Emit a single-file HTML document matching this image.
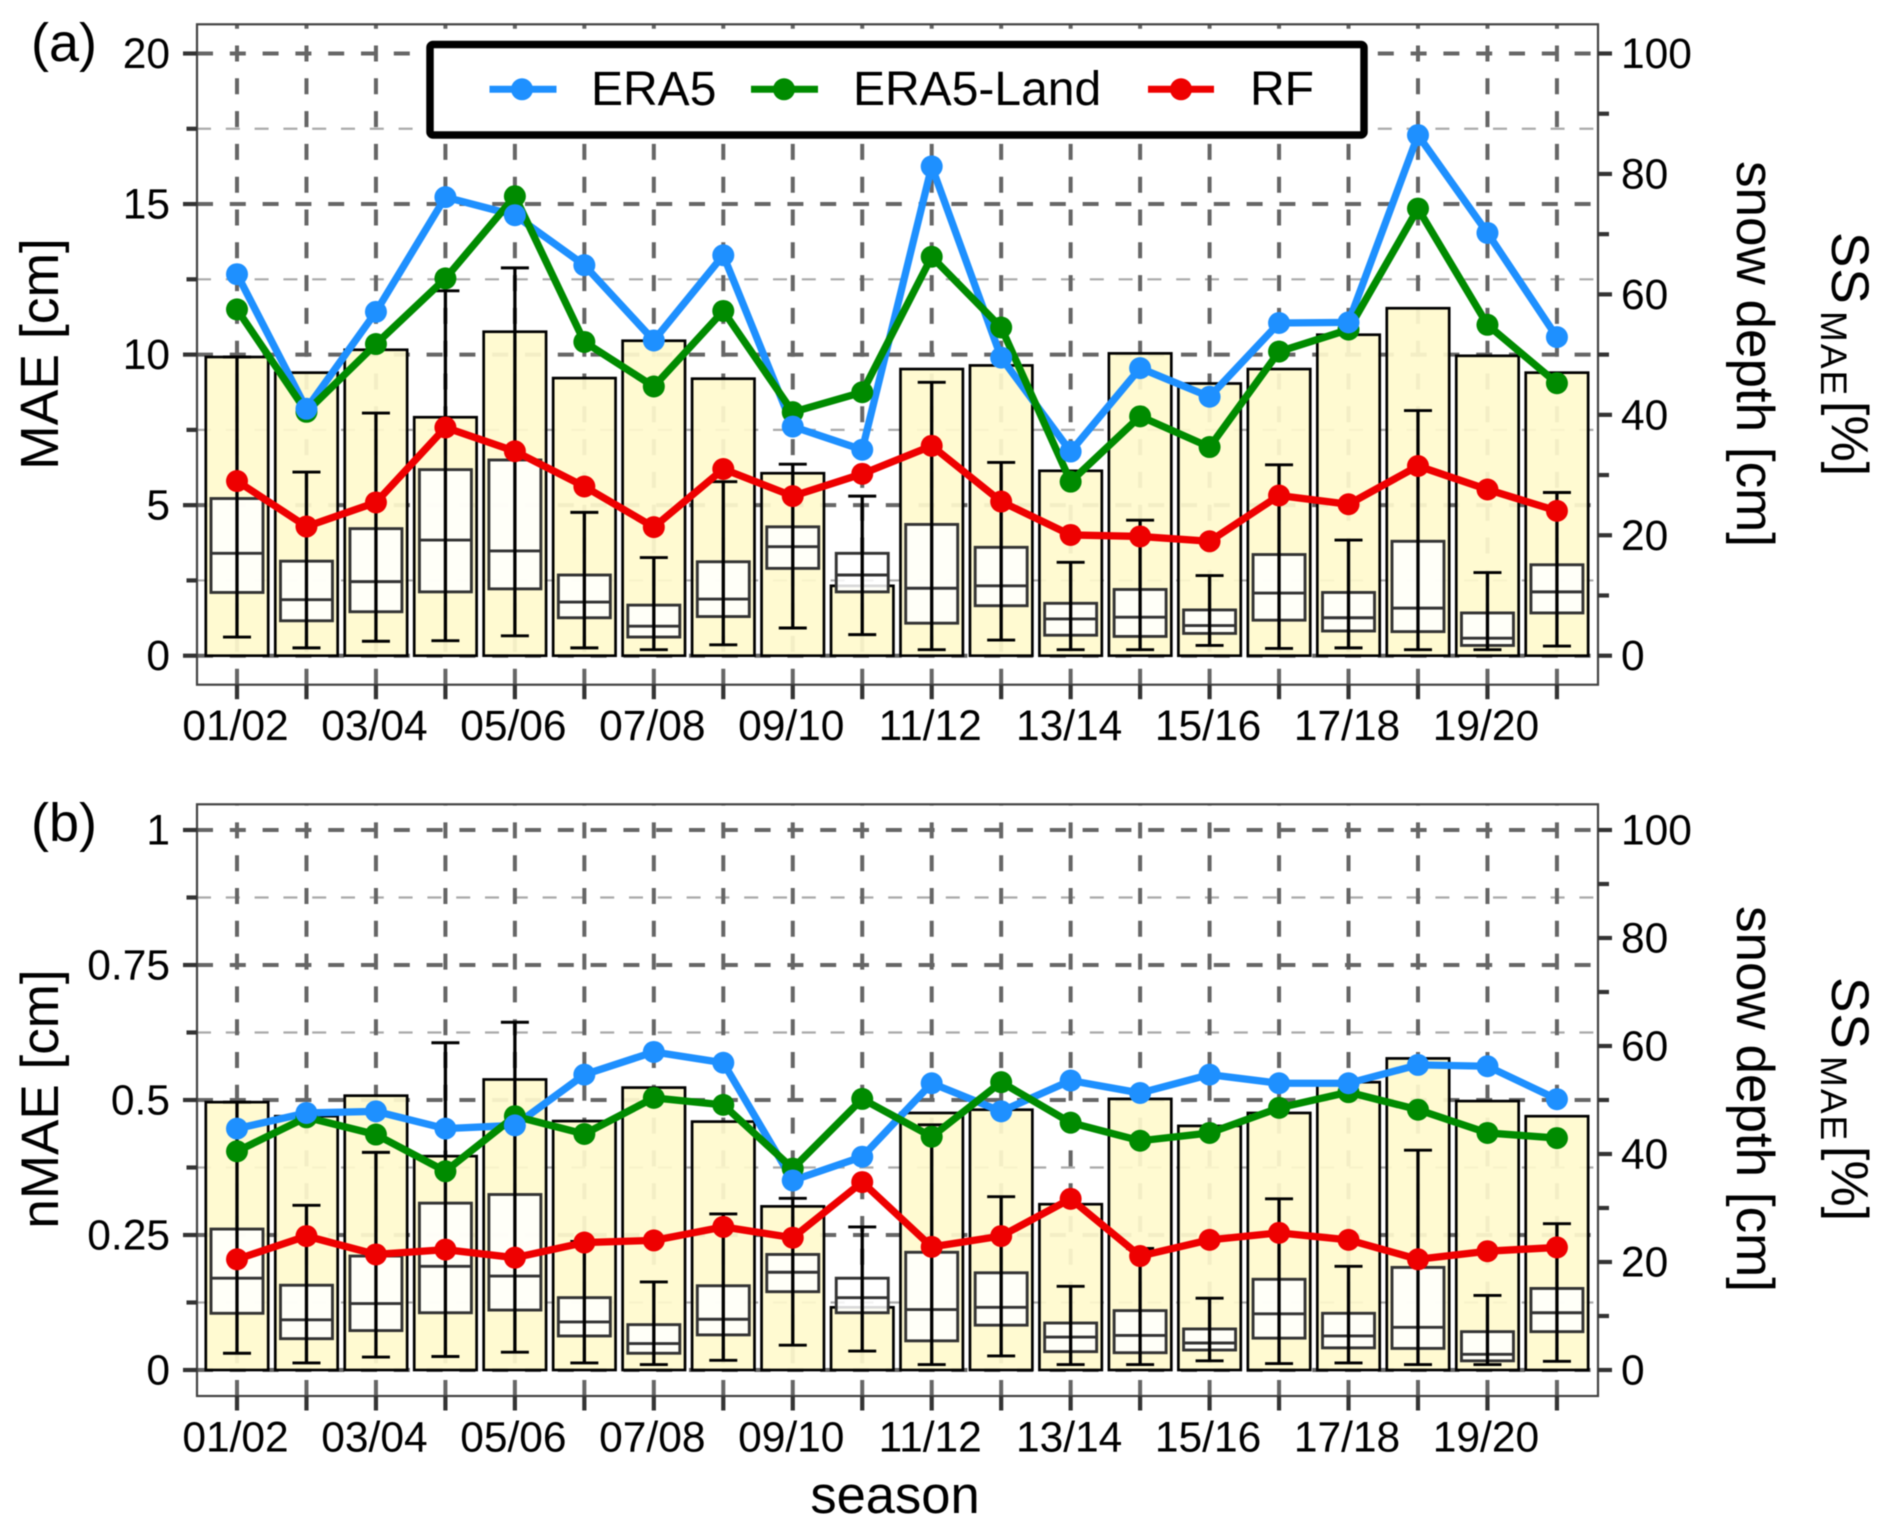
<!DOCTYPE html>
<html lang="en">
<head>
<meta charset="utf-8">
<title>Seasonal MAE, nMAE, skill score and snow depth</title>
<style>
html,body{margin:0;padding:0;background:#fff;}
svg{display:block;font-family:"Liberation Sans",Arial,sans-serif;filter:blur(0.5px);}
text{fill:#000;}
</style>
</head>
<body>
<svg id="chart" xmlns="http://www.w3.org/2000/svg" width="1892" height="1533" viewBox="0 0 1892 1533">
  <rect x="0" y="0" width="1892" height="1533" fill="#fff"/>
  <g id="panel-a"></g>
  <g id="panel-b"></g>

  <text x="31" y="61" font-size="54">(a)</text>
  <text x="31" y="841" font-size="54">(b)</text>
  <text transform="translate(58,354) rotate(-90)" text-anchor="middle" font-size="53.5">MAE [cm]</text>
  <text transform="translate(58,1099) rotate(-90)" text-anchor="middle" font-size="53">nMAE [cm]</text>

  <text transform="translate(1737,354) rotate(90)" text-anchor="middle" font-size="53">snow depth [cm]</text>
  <text transform="translate(1737,1099) rotate(90)" text-anchor="middle" font-size="53">snow depth [cm]</text>

  <g>
    <text transform="translate(1832,232) rotate(90)" font-size="53" letter-spacing="1">SS</text>
    <text transform="translate(1821,311) rotate(90)" font-size="37" letter-spacing="2">MAE</text>
    <text transform="translate(1832,401) rotate(90)" font-size="52">[%]</text>
  </g>
  <g>
    <text transform="translate(1832,977) rotate(90)" font-size="53" letter-spacing="1">SS</text>
    <text transform="translate(1821,1056) rotate(90)" font-size="37" letter-spacing="2">MAE</text>
    <text transform="translate(1832,1146) rotate(90)" font-size="52">[%]</text>
  </g>

  <text x="895" y="1513" text-anchor="middle" font-size="52.5">season</text>

  <g>
    <rect x="430" y="44.5" width="934" height="90.5" rx="3" fill="#fff" stroke="#000" stroke-width="7.5"/>
    <g>
      <line x1="489.5" y1="89.3" x2="556.5" y2="89.3" stroke="#1E90FF" stroke-width="7"/>
      <circle cx="522" cy="89.3" r="11" fill="#1E90FF"/>
      <text x="591" y="105" font-size="48">ERA5</text>
    </g>
    <g>
      <line x1="751" y1="89.3" x2="818" y2="89.3" stroke="#008B00" stroke-width="7"/>
      <circle cx="784" cy="89.3" r="11" fill="#008B00"/>
      <text x="853" y="105" font-size="48">ERA5-Land</text>
    </g>
    <g>
      <line x1="1148" y1="89.3" x2="1214" y2="89.3" stroke="#EE0000" stroke-width="7"/>
      <circle cx="1181" cy="89.3" r="11" fill="#EE0000"/>
      <text x="1250" y="105" font-size="48">RF</text>
    </g>
  </g>
</svg>

<script>
// ---------- data ----------
var seasons = ["01/02","02/03","03/04","04/05","05/06","06/07","07/08","08/09","09/10","10/11","11/12","12/13","13/14","14/15","15/16","16/17","17/18","18/19","19/20","20/21"];
var seasonTickLabels = ["01/02","","03/04","","05/06","","07/08","","09/10","","11/12","","13/14","","15/16","","17/18","","19/20",""];

var era5Mae = [12.67,8.2,11.42,15.23,14.63,12.97,10.47,13.3,7.61,6.84,16.25,9.9,6.78,9.55,8.6,11.05,11.07,17.29,14.04,10.58];
var landMae = [11.5,8.1,10.35,12.53,15.26,10.42,8.94,11.45,8.09,8.75,13.25,10.9,5.78,7.95,6.93,10.1,10.83,14.85,10.99,9.05];
var rfMae = [5.8,4.29,5.09,7.58,6.79,5.62,4.27,6.2,5.3,6.04,6.97,5.12,4.01,3.96,3.8,5.32,5.03,6.3,5.52,4.81];

var era5Nmae = [0.447,0.476,0.479,0.447,0.453,0.547,0.589,0.569,0.351,0.395,0.531,0.479,0.536,0.513,0.547,0.531,0.531,0.565,0.5625,0.5015];
var landNmae = [0.405,0.468,0.436,0.368,0.47,0.437,0.504,0.491,0.373,0.502,0.432,0.533,0.458,0.4245,0.439,0.4855,0.5145,0.482,0.439,0.4295];
var rfNmae = [0.205,0.248,0.214,0.223,0.208,0.236,0.24,0.265,0.245,0.348,0.228,0.248,0.317,0.211,0.241,0.254,0.241,0.205,0.22,0.227];

var skillScore = [49.6,47,50.8,39.6,53.8,46.1,52.3,46,30.3,11.6,47.6,48.2,30.7,50.2,45.2,47.6,53.3,57.7,49.8,47];

var depthLow = [3.1,1.3,2.4,2.5,3.3,1.3,1,1.8,4.6,3.5,1,2.6,1,1,1.7,1.2,1.3,1,1,1.6];
var depthQ1 = [10.5,5.8,7.3,10.6,11.1,6.3,3.1,6.5,14.5,10.6,5.4,8.3,3.4,3.2,3.7,5.9,4.1,4,1.7,7.1];
var depthMedian = [17,9.3,12.3,19.2,17.4,8.9,4.9,9.4,18.1,13.4,11.2,11.6,6.1,6.4,5,10.4,6.3,7.9,2.9,10.6];
var depthQ3 = [26.1,15.7,21.1,30.9,32.5,13.4,8.4,15.6,21.4,17,21.8,18,8.7,11,7.6,16.8,10.5,19,7.1,15.1];
var depthHigh = [49.6,30.5,40.3,60.6,64.4,23.8,16.3,28.9,31.8,26.5,45.4,32.1,15.5,22.5,13.3,31.7,19.2,40.7,13.8,27.1];

var maeTicks = [0,5,10,15,20];
var maeTickLabels = ["0","5","10","15","20"];
var maeMinorTicks = [2.5,7.5,12.5,17.5];
var nmaeTicks = [0,0.25,0.5,0.75,1];
var nmaeTickLabels = ["0","0.25","0.5","0.75","1"];
var nmaeMinorTicks = [0.125,0.375,0.625,0.875];
var rightTicks = [0,20,40,60,80,100];
var rightTickLabels = ["0","20","40","60","80","100"];
var rightMinorTicks = [10,30,50,70,90];

// ---------- drawing ----------
var NS = 'http://www.w3.org/2000/svg';
var plotLeft = 197, plotRight = 1598;
var firstX = 237, stepX = 69.47;

function xScale(i){ return firstX + i * stepX; }

function make(parent, tag, attrs, txt){
  var n = document.createElementNS(NS, tag);
  for (var k in attrs) n.setAttribute(k, attrs[k]);
  if (txt !== undefined) n.textContent = txt;
  parent.appendChild(n);
  return n;
}

function drawPanel(root, cfg){
  var yLeft = function(v){ return cfg.y0 + (cfg.yMax - cfg.y0) * v / cfg.leftMax; };
  var yRight = function(v){ return cfg.y0 + (cfg.yMax - cfg.y0) * v / 100; };
  var el;

  // grid
  var grid = make(root, 'g', {});
  
  
  cfg.minor.forEach(function(v){
    el = make(grid, 'line', {x1:plotLeft, x2:plotRight, y1:yLeft(v), y2:yLeft(v), stroke:'#aaaaaa', 'stroke-width':2.2, 'stroke-dasharray':'14 14.8'});
    
    
  });
  cfg.major.forEach(function(v){
    el = make(grid, 'line', {x1:plotLeft, x2:plotRight, y1:yLeft(v), y2:yLeft(v), stroke:'#666666', 'stroke-width':4, 'stroke-dasharray':'16 16.8'});
    
    
  });
  seasons.forEach(function(s, idx){
    el = make(grid, 'line', {x1:xScale(idx), x2:xScale(idx), y1:cfg.bottom, y2:cfg.top, stroke:'#666666', 'stroke-width':4, 'stroke-dasharray':'16 16.8'});
    
    
  });

  // bars
  var barsG = make(root, 'g', {});
  
  
  skillScore.forEach(function(v, idx){
    el = make(barsG, 'rect', {x:xScale(idx)-31.2, y:yRight(v), width:62.4, height:cfg.y0-yRight(v), fill:'#FFFACD', 'fill-opacity':0.92, stroke:'#000', 'stroke-width':2.7});
    
    
  });

  // boxplots
  var boxG = make(root, 'g', {});
  
  
  seasons.forEach(function(s, idx){
    var x = xScale(idx);
    el = make(boxG, 'rect', {x:x-26, y:yRight(depthQ3[idx]), width:52, height:yRight(depthQ1[idx])-yRight(depthQ3[idx]), fill:'#fff', 'fill-opacity':0.85, stroke:'#333', 'stroke-width':2.9});
    
    
    el = make(boxG, 'line', {x1:x-26, x2:x+26, y1:yRight(depthMedian[idx]), y2:yRight(depthMedian[idx]), stroke:'#333', 'stroke-width':2.9});
    
    
    el = make(boxG, 'line', {x1:x, x2:x, y1:yRight(depthLow[idx]), y2:yRight(depthHigh[idx]), stroke:'#000', 'stroke-width':3.3});
    
    
    el = make(boxG, 'line', {x1:x-14, x2:x+14, y1:yRight(depthLow[idx]), y2:yRight(depthLow[idx]), stroke:'#000', 'stroke-width':2.9});
    
    
    el = make(boxG, 'line', {x1:x-14, x2:x+14, y1:yRight(depthHigh[idx]), y2:yRight(depthHigh[idx]), stroke:'#000', 'stroke-width':2.9});
    
    
  });

  // series lines
  var lineG = make(root, 'g', {});
  
  
  cfg.series.forEach(function(s){
    var pts = s.values.map(function(v, idx){ return xScale(idx).toFixed(2) + ',' + yLeft(v).toFixed(2); }).join(' ');
    el = make(lineG, 'polyline', {points:pts, fill:'none', stroke:s.color, 'stroke-width':7.3, 'stroke-linejoin':'round'});
    
    
  });

  // series points: land first so ERA5 sits on top of it, as in the figure
  var pointG = make(root, 'g', {});
  
  
  [cfg.series[1], cfg.series[0], cfg.series[2]].forEach(function(s){
    s.values.forEach(function(v, idx){
      el = make(pointG, 'circle', {cx:xScale(idx), cy:yLeft(v), r:11, fill:s.color});
      
      
    });
  });

  // frame
  el = make(root, 'rect', {x:plotLeft, y:cfg.top, width:plotRight-plotLeft, height:cfg.bottom-cfg.top, fill:'none', stroke:'#444', 'stroke-width':2.2});
  
  

  // left axis
  var leftG = make(root, 'g', {});
  
  
  cfg.major.forEach(function(v, idx){
    el = make(leftG, 'line', {x1:183, x2:plotLeft, y1:yLeft(v), y2:yLeft(v), stroke:'#333', 'stroke-width':4.2});
    
    
    el = make(leftG, 'text', {x:170, y:yLeft(v)+14.5, 'text-anchor':'end', 'font-size':42.5}, cfg.majorLabels[idx]);
    
    
  });
  cfg.minor.forEach(function(v){
    el = make(leftG, 'line', {x1:186.5, x2:plotLeft, y1:yLeft(v), y2:yLeft(v), stroke:'#333', 'stroke-width':4.2});
    
    
  });

  // right axis
  var rightG = make(root, 'g', {});
  
  
  rightTicks.forEach(function(v, idx){
    el = make(rightG, 'line', {x1:plotRight, x2:1612, y1:yRight(v), y2:yRight(v), stroke:'#333', 'stroke-width':4.2});
    
    
    el = make(rightG, 'text', {x:1621, y:yRight(v)+14.5, 'font-size':42.5}, rightTickLabels[idx]);
    
    
  });
  rightMinorTicks.forEach(function(v){
    el = make(rightG, 'line', {x1:plotRight, x2:1609, y1:yRight(v), y2:yRight(v), stroke:'#333', 'stroke-width':4.2});
    
    
  });

  // x axis
  var xG = make(root, 'g', {});
  
  
  seasons.forEach(function(s, idx){
    el = make(xG, 'line', {x1:xScale(idx), x2:xScale(idx), y1:cfg.bottom, y2:cfg.bottom+14.5, stroke:'#333', 'stroke-width':4.2});
    
    
    if (seasonTickLabels[idx]) {
      el = make(xG, 'text', {x:xScale(idx)-1.5, y:cfg.bottom+55.3, 'text-anchor':'middle', 'font-size':42.5}, seasonTickLabels[idx]);
      
      
    }
  });
}

drawPanel(document.getElementById('panel-a'), {
  top:24.3, bottom:684.7, y0:655.7, yMax:53.5, leftMax:20,
  major:maeTicks, majorLabels:maeTickLabels, minor:maeMinorTicks,
  series:[
    {name:'era5', color:'#1E90FF', values:era5Mae},
    {name:'era5-land', color:'#008B00', values:landMae},
    {name:'rf', color:'#EE0000', values:rfMae}
  ]
});

drawPanel(document.getElementById('panel-b'), {
  top:804.3, bottom:1396, y0:1370, yMax:830, leftMax:1,
  major:nmaeTicks, majorLabels:nmaeTickLabels, minor:nmaeMinorTicks,
  series:[
    {name:'era5', color:'#1E90FF', values:era5Nmae},
    {name:'era5-land', color:'#008B00', values:landNmae},
    {name:'rf', color:'#EE0000', values:rfNmae}
  ]
});
</script>
</body>
</html>
